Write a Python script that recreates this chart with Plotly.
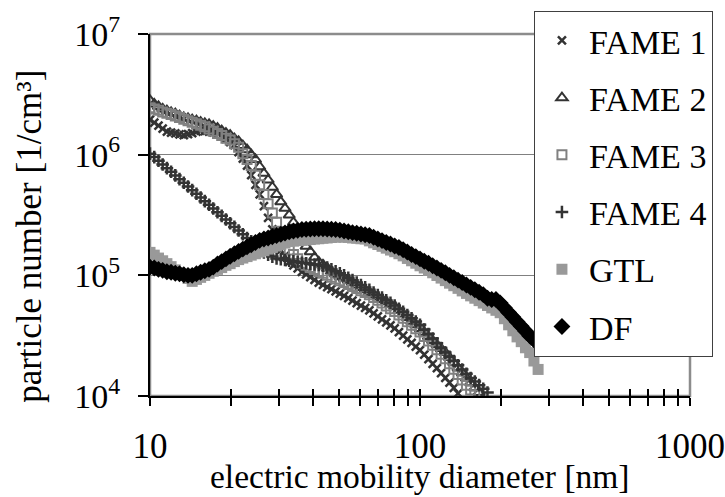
import plotly.graph_objects as go

# SMPS channel diameters [nm]
diameter = [
    10.00, 10.37, 10.75, 11.14, 11.55, 11.97, 12.41, 12.86, 13.34, 13.83,
    14.33, 14.86, 15.40, 15.96, 16.55, 17.15, 17.78, 18.43, 19.11, 19.81,
    20.54, 21.29, 22.07, 22.88, 23.71, 24.58, 25.48, 26.42, 27.38, 28.39,
    29.43, 30.51, 31.62, 32.78, 33.98, 35.23, 36.52, 37.86, 39.24, 40.68,
    42.17, 43.72, 45.32, 46.98, 48.70, 50.48, 52.33, 54.25, 56.23, 58.29,
    60.43, 62.64, 64.94, 67.32, 69.78, 72.34, 74.99, 77.74, 80.58, 83.54,
    86.60, 89.77, 93.06, 96.47, 100.0, 103.7, 107.5, 111.4, 115.5, 119.7,
    124.1, 128.6, 133.4, 138.3, 143.3, 148.6, 154.0, 159.6, 165.5, 171.5,
    177.8, 184.3, 191.1, 198.1, 205.4, 212.9, 220.7, 228.8, 237.1, 245.8,
    254.8, 264.2, 273.8, 283.9]

fame1 = [
    1.95e6, 1.84e6, 1.74e6, 1.64e6, 1.55e6, 1.52e6, 1.50e6, 1.47e6, 1.45e6, 1.48e6,
    1.51e6, 1.55e6, 1.58e6, 1.57e6, 1.55e6, 1.53e6, 1.51e6, 1.43e6, 1.35e6, 1.27e6,
    1.20e6, 1.05e6, 9.27e5, 8.13e5, 6.76e5, 5.62e5, 4.68e5, 3.74e5, 3.00e5, 2.40e5,
    1.97e5, 1.62e5, 1.45e5, 1.29e5, 1.21e5, 1.14e5, 1.07e5, 1.02e5, 9.66e4, 9.18e4,
    8.71e4, 8.35e4, 8.00e4, 7.67e4, 7.36e4, 7.05e4, 6.76e4, 6.46e4, 6.17e4, 5.89e4,
    5.62e4, 5.37e4, 5.13e4, 4.84e4, 4.57e4, 4.32e4, 4.07e4, 3.85e4, 3.63e4, 3.39e4,
    3.16e4, 2.95e4, 2.75e4, 2.57e4, 2.40e4, 2.20e4, 2.02e4, 1.85e4, 1.70e4, 1.55e4,
    1.41e4, 1.29e4, 1.17e4, 1.05e4]

fame2 = [
    2.82e6, 2.63e6, 2.51e6, 2.40e6, 2.32e6, 2.24e6, 2.19e6, 2.11e6, 2.04e6, 2.00e6,
    1.95e6, 1.91e6, 1.86e6, 1.82e6, 1.78e6, 1.72e6, 1.66e6, 1.58e6, 1.51e6, 1.45e6,
    1.36e6, 1.29e6, 1.19e6, 1.10e6, 1.00e6, 9.12e5, 7.94e5, 7.00e5, 6.17e5, 5.37e5,
    4.68e5, 4.07e5, 3.59e5, 3.16e5, 2.75e5, 2.34e5, 2.02e5, 1.74e5, 1.57e5, 1.41e5,
    1.29e5, 1.22e5, 1.15e5, 1.08e5, 1.02e5, 9.77e4, 9.44e4, 9.12e4, 8.71e4, 8.32e4,
    7.94e4, 7.59e4, 7.24e4, 6.92e4, 6.61e4, 6.31e4, 6.03e4, 5.75e4, 5.50e4, 5.13e4,
    4.79e4, 4.47e4, 4.17e4, 3.89e4, 3.63e4, 3.37e4, 3.11e4, 2.88e4, 2.67e4, 2.47e4,
    2.29e4, 2.08e4, 1.89e4, 1.71e4, 1.56e4, 1.41e4, 1.29e4, 1.17e4, 1.07e4]

fame3 = [
    2.45e6, 2.39e6, 2.33e6, 2.26e6, 2.20e6, 2.15e6, 2.09e6, 2.03e6, 1.97e6, 1.91e6,
    1.86e6, 1.80e6, 1.75e6, 1.70e6, 1.63e6, 1.56e6, 1.50e6, 1.44e6, 1.37e6, 1.32e6,
    1.23e6, 1.15e6, 1.02e6, 9.12e5, 8.13e5, 6.76e5, 5.62e5, 4.68e5, 3.92e5, 3.29e5,
    2.75e5, 2.31e5, 1.94e5, 1.62e5, 1.49e5, 1.37e5, 1.26e5, 1.21e5, 1.16e5, 1.12e5,
    1.07e5, 1.04e5, 1.00e5, 9.66e4, 9.33e4, 9.02e4, 8.71e4, 8.38e4, 8.07e4, 7.76e4,
    7.46e4, 7.19e4, 6.92e4, 6.56e4, 6.21e4, 5.89e4, 5.58e4, 5.28e4, 5.01e4, 4.70e4,
    4.40e4, 4.12e4, 3.86e4, 3.61e4, 3.39e4, 3.11e4, 2.86e4, 2.63e4, 2.42e4, 2.22e4,
    2.04e4, 1.85e4, 1.67e4, 1.51e4, 1.36e4, 1.23e4, 1.12e4, 1.02e4]

fame4 = [
    1.02e6, 9.55e5, 8.91e5, 8.30e5, 7.73e5, 7.21e5, 6.73e5, 6.27e5, 5.85e5, 5.45e5,
    5.08e5, 4.74e5, 4.42e5, 4.12e5, 3.84e5, 3.58e5, 3.33e5, 3.11e5, 2.90e5, 2.70e5,
    2.52e5, 2.35e5, 2.19e5, 2.04e5, 1.91e5, 1.76e5, 1.62e5, 1.55e5, 1.48e5, 1.43e5,
    1.38e5, 1.36e5, 1.34e5, 1.32e5, 1.31e5, 1.29e5, 1.27e5, 1.26e5, 1.24e5, 1.23e5,
    1.22e5, 1.20e5, 1.16e5, 1.12e5, 1.08e5, 1.04e5, 1.00e5, 9.55e4, 9.12e4, 8.71e4,
    8.32e4, 7.94e4, 7.59e4, 7.21e4, 6.87e4, 6.53e4, 6.21e4, 5.92e4, 5.62e4, 5.28e4,
    4.98e4, 4.68e4, 4.40e4, 4.14e4, 3.89e4, 3.56e4, 3.26e4, 2.99e4, 2.74e4, 2.50e4,
    2.29e4, 2.11e4, 1.95e4, 1.80e4, 1.66e4, 1.53e4, 1.41e4, 1.32e4, 1.23e4, 1.15e4,
    1.07e4]

gtl = [
    1.55e5, 1.47e5, 1.39e5, 1.32e5, 1.25e5, 1.18e5, 1.11e5, 1.05e5, 9.97e4, 9.42e4,
    8.91e4, 9.25e4, 9.62e4, 9.98e4, 1.04e5, 1.08e5, 1.12e5, 1.16e5, 1.21e5, 1.25e5,
    1.30e5, 1.35e5, 1.39e5, 1.43e5, 1.47e5, 1.51e5, 1.56e5, 1.60e5, 1.65e5, 1.70e5,
    1.75e5, 1.80e5, 1.85e5, 1.91e5, 1.92e5, 1.94e5, 1.95e5, 1.96e5, 1.98e5, 2.00e5,
    2.01e5, 2.03e5, 2.04e5, 2.06e5, 2.07e5, 2.09e5, 2.07e5, 2.06e5, 2.04e5, 2.03e5,
    2.01e5, 2.00e5, 1.93e5, 1.86e5, 1.80e5, 1.74e5, 1.68e5, 1.62e5, 1.57e5, 1.51e5,
    1.45e5, 1.38e5, 1.32e5, 1.26e5, 1.20e5, 1.15e5, 1.10e5, 1.05e5, 9.97e4, 9.49e4,
    9.04e4, 8.61e4, 8.20e4, 7.80e4, 7.43e4, 7.08e4, 6.76e4, 6.46e4, 6.17e4, 5.89e4,
    5.62e4, 5.37e4, 5.13e4, 4.90e4, 4.37e4, 3.89e4, 3.47e4, 3.09e4, 2.82e4, 2.51e4,
    2.29e4, 1.95e4, 1.66e4]

df = [
    1.17e5, 1.15e5, 1.12e5, 1.10e5, 1.07e5, 1.06e5, 1.04e5, 1.03e5, 1.01e5, 1.00e5,
    1.00e5, 1.03e5, 1.06e5, 1.09e5, 1.12e5, 1.17e5, 1.24e5, 1.30e5, 1.37e5, 1.44e5,
    1.51e5, 1.58e5, 1.65e5, 1.72e5, 1.79e5, 1.87e5, 1.95e5, 2.00e5, 2.04e5, 2.09e5,
    2.14e5, 2.19e5, 2.24e5, 2.29e5, 2.33e5, 2.36e5, 2.40e5, 2.41e5, 2.42e5, 2.43e5,
    2.43e5, 2.43e5, 2.42e5, 2.41e5, 2.40e5, 2.37e5, 2.33e5, 2.30e5, 2.26e5, 2.23e5,
    2.20e5, 2.17e5, 2.14e5, 2.07e5, 2.00e5, 1.94e5, 1.87e5, 1.82e5, 1.75e5, 1.70e5,
    1.63e5, 1.56e5, 1.49e5, 1.43e5, 1.37e5, 1.31e5, 1.26e5, 1.20e5, 1.15e5, 1.10e5,
    1.05e5, 1.00e5, 9.55e4, 9.12e4, 8.71e4, 8.32e4, 7.94e4, 7.59e4, 7.24e4, 6.92e4,
    6.46e4, 6.31e4, 6.31e4, 5.89e4, 5.38e4, 4.93e4, 4.51e4, 4.13e4, 3.78e4, 3.46e4,
    3.16e4, 2.93e4, 2.71e4, 2.51e4]

x_tickvals = [10, 20, 30, 40, 50, 60, 70, 80, 90, 100,
              200, 300, 400, 500, 600, 700, 800, 900, 1000]
x_ticktext = ["10", "", "", "", "", "", "", "", "", "100",
              "", "", "", "", "", "", "", "", "1000"]
y_tickvals = [1e4, 1e5, 1e6, 1e7]
y_ticktext = ["10<sup>4</sup>", "10<sup>5</sup>", "10<sup>6</sup>", "10<sup>7</sup>"]

FONT = "Liberation Serif"
DARK = "#333333"

series = [
    ("FAME 1", fame1, dict(symbol="x-thin", size=8, color=DARK,
                           line=dict(color=DARK, width=2.5))),
    ("FAME 2", fame2, dict(symbol="triangle-up-open", size=10, color=DARK,
                           line=dict(color=DARK, width=2))),
    ("FAME 3", fame3, dict(symbol="square-open", size=9, color="#808080",
                           line=dict(color="#808080", width=2))),
    ("FAME 4", fame4, dict(symbol="cross-thin", size=9, color=DARK,
                           line=dict(color=DARK, width=2.5))),
    ("GTL", gtl, dict(symbol="square", size=11, color="#999999",
                      line=dict(width=0))),
    ("DF", df, dict(symbol="diamond", size=13, color="#000000",
                    line=dict(width=0))),
]

fig = go.Figure()
for name, vals, mk in series:
    fig.add_trace(go.Scatter(
        x=diameter[:len(vals)], y=vals, mode="markers", name=name,
        legendgroup=name, marker=mk, cliponaxis=True))

# overlay axis for the inward half of the crossing x ticks
fig.add_trace(go.Scatter(x=[], y=[], xaxis="x2", showlegend=False,
                         hoverinfo="skip"))

fig.update_layout(
    width=725, height=497,
    margin=dict(l=150, r=35, t=34, b=101, autoexpand=False),
    paper_bgcolor="white", plot_bgcolor="white",
    font=dict(family=FONT, size=32, color="black"),
    showlegend=True,
    legend=dict(x=0.711, y=1.064, xanchor="left", yanchor="top",
                bgcolor="white", bordercolor="#404040", borderwidth=1,
                font=dict(family=FONT, size=34, color="black"),
                tracegroupgap=10, itemwidth=44, maxheight=600,
                entrywidth=230, entrywidthmode="pixels"),
    xaxis=dict(type="log", range=[1, 3], showgrid=False, zeroline=False,
               automargin=False,
               showline=True, linecolor="black", linewidth=2,
               ticks="outside", ticklen=8, tickwidth=1.5, tickcolor="black",
               tickvals=x_tickvals, ticktext=x_ticktext,
               ticklabelstandoff=10,
               tickfont=dict(family=FONT, size=35, color="black")),
    xaxis2=dict(type="log", range=[1, 3], overlaying="x", anchor="y",
                side="bottom", showgrid=False, zeroline=False, showline=False,
                automargin=False,
                ticks="inside", ticklen=7, tickwidth=1.5, tickcolor="black",
                tickvals=x_tickvals, showticklabels=False),
    yaxis=dict(type="log", range=[4, 7], showgrid=True, gridcolor="#808080",
               gridwidth=1, zeroline=False, automargin=False,
               showline=True, linecolor="black", linewidth=2,
               ticks="outside", ticklen=10, tickwidth=1.5, tickcolor="black",
               tickvals=y_tickvals, ticktext=y_ticktext,
               ticklabelstandoff=11,
               tickfont=dict(family=FONT, size=34, color="black")),
    shapes=[dict(type="rect", xref="paper", yref="paper", x0=0, x1=1,
                 y0=0, y1=1, line=dict(color="#8c8c8c", width=2.5),
                 layer="below")],
    annotations=[
        dict(text="electric mobility diameter [nm]", xref="paper",
             yref="paper", x=0.5, y=-0.222, xanchor="center",
             yanchor="middle", showarrow=False,
             font=dict(family=FONT, size=33.5, color="black")),
        dict(text="particle number [1/cm³]", xref="paper", yref="paper",
             x=-0.222, y=0.44, xanchor="center", yanchor="middle",
             textangle=-90, showarrow=False,
             font=dict(family=FONT, size=35, color="black")),
    ],
)

fig.write_html("out.html")
